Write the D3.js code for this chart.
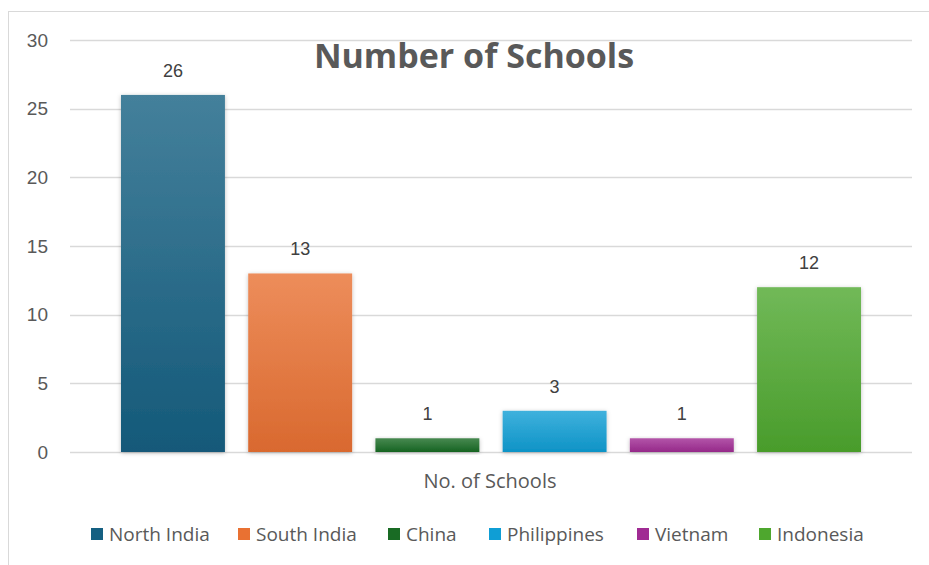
<!DOCTYPE html>
<html>
<head>
<meta charset="utf-8">
<script src="https://cdn.jsdelivr.net/npm/d3@7/dist/d3.min.js"></script>
<style>
  body { margin: 0; background: #fff; }
  svg { display: block; }
</style>
</head>
<body>
<svg id="chart" width="929" height="565"></svg>
<script>
// ==============================
// DATA
// ==============================
const regions = ["North India", "South India", "China", "Philippines", "Vietnam", "Indonesia"];
const schools = [26, 13, 1, 3, 1, 12];
const colors = ["#156082", "#E97132", "#196B24", "#0F9ED5", "#A02B93", "#4EA72E"];
const yTicks = [0, 5, 10, 15, 20, 25, 30];
const categoryLabel = "No. of Schools";
const titleText = "Number of Schools";

// ==============================
// SETUP
// ==============================
const svg = d3.select("#chart");
const defs = svg.append("defs");

// chart frame
svg.append("rect")
  .attr("x", 8.5).attr("y", 11.5)
  .attr("width", 940).attr("height", 580)
  .attr("fill", "none")
  .attr("stroke", "#d9d9d9");

const y = d3.scaleLinear().domain([0, 30]).range([452, 40]);
const x = d3.scaleBand().domain(regions).range([121, 861]).paddingInner(0.183);

// gradients per bar
colors.forEach((c, i) => {
  const g = defs.append("linearGradient")
    .attr("id", "grad" + i)
    .attr("x1", 0).attr("y1", 0).attr("x2", 0).attr("y2", 1);
  g.append("stop").attr("offset", "0%").attr("stop-color", d3.interpolateRgb(c, "#fff")(0.2));
  g.append("stop").attr("offset", "100%").attr("stop-color", d3.color(c).darker(0.2));
});

const shadow = defs.append("filter").attr("id", "shadow")
  .attr("x", "-10%").attr("y", "-10%").attr("width", "120%").attr("height", "130%");
shadow.append("feDropShadow")
  .attr("dx", 0).attr("dy", 1).attr("stdDeviation", 2)
  .attr("flood-color", "#000").attr("flood-opacity", 0.25);

// ==============================
// GRID + AXIS
// ==============================
const grid = svg.append("g");
grid.selectAll("line")
  .data(yTicks)
  .join("line")
  .attr("x1", 70).attr("x2", 912)
  .attr("y1", d => Math.round(y(d)) + 0.5)
  .attr("y2", d => Math.round(y(d)) + 0.5)
  .attr("stroke", "#d9d9d9")
  .attr("stroke-width", 1.5);

const yAxis = svg.append("g")
  .attr("transform", "translate(48,0)")
  .call(d3.axisLeft(y).tickValues(yTicks).tickSize(0).tickPadding(0));
yAxis.select(".domain").remove();
yAxis.selectAll("text")
  .attr("font-family", "Liberation Sans, Arial, sans-serif")
  .attr("font-size", 19)
  .attr("fill", "#595959");

// ==============================
// TITLE
// ==============================
svg.append("text")
  .attr("x", 474).attr("y", 68)
  .attr("text-anchor", "middle")
  .attr("font-family", "Open Sans, sans-serif")
  .attr("font-weight", "bold")
  .attr("font-size", 34)
  .attr("fill", "#595959")
  .text(titleText);

// ==============================
// BARS
// ==============================
const data = regions.map((r, i) => ({ region: r, value: schools[i], i }));

svg.append("g").selectAll("rect")
  .data(data)
  .join("rect")
  .attr("x", d => x(d.region))
  .attr("y", d => y(d.value))
  .attr("width", x.bandwidth())
  .attr("height", d => y(0) - y(d.value))
  .attr("fill", d => `url(#grad${d.i})`)
  .attr("filter", "url(#shadow)");

svg.append("g").selectAll("text")
  .data(data)
  .join("text")
  .attr("x", d => x(d.region) + x.bandwidth() / 2)
  .attr("y", d => y(d.value) - 18)
  .attr("text-anchor", "middle")
  .attr("font-family", "Liberation Sans, Arial, sans-serif")
  .attr("font-size", 18)
  .attr("fill", "#404040")
  .text(d => d.value);

// category label
svg.append("text")
  .attr("x", 490).attr("y", 488)
  .attr("text-anchor", "middle")
  .attr("font-family", "Open Sans, sans-serif")
  .attr("font-size", 20)
  .attr("fill", "#595959")
  .text(categoryLabel);

// ==============================
// LEGEND
// ==============================
const legendTextX = [109, 256, 406, 507, 655, 777];
const legend = svg.append("g").selectAll("g")
  .data(data)
  .join("g")
  .attr("transform", d => `translate(${legendTextX[d.i]},0)`);
legend.append("rect")
  .attr("x", -18).attr("y", 528)
  .attr("width", 12).attr("height", 12)
  .attr("fill", d => colors[d.i]);
legend.append("text")
  .attr("x", 0).attr("y", 541)
  .attr("font-family", "Open Sans, sans-serif")
  .attr("font-size", 19)
  .attr("fill", "#595959")
  .text(d => d.region);
</script>
</body>
</html>
